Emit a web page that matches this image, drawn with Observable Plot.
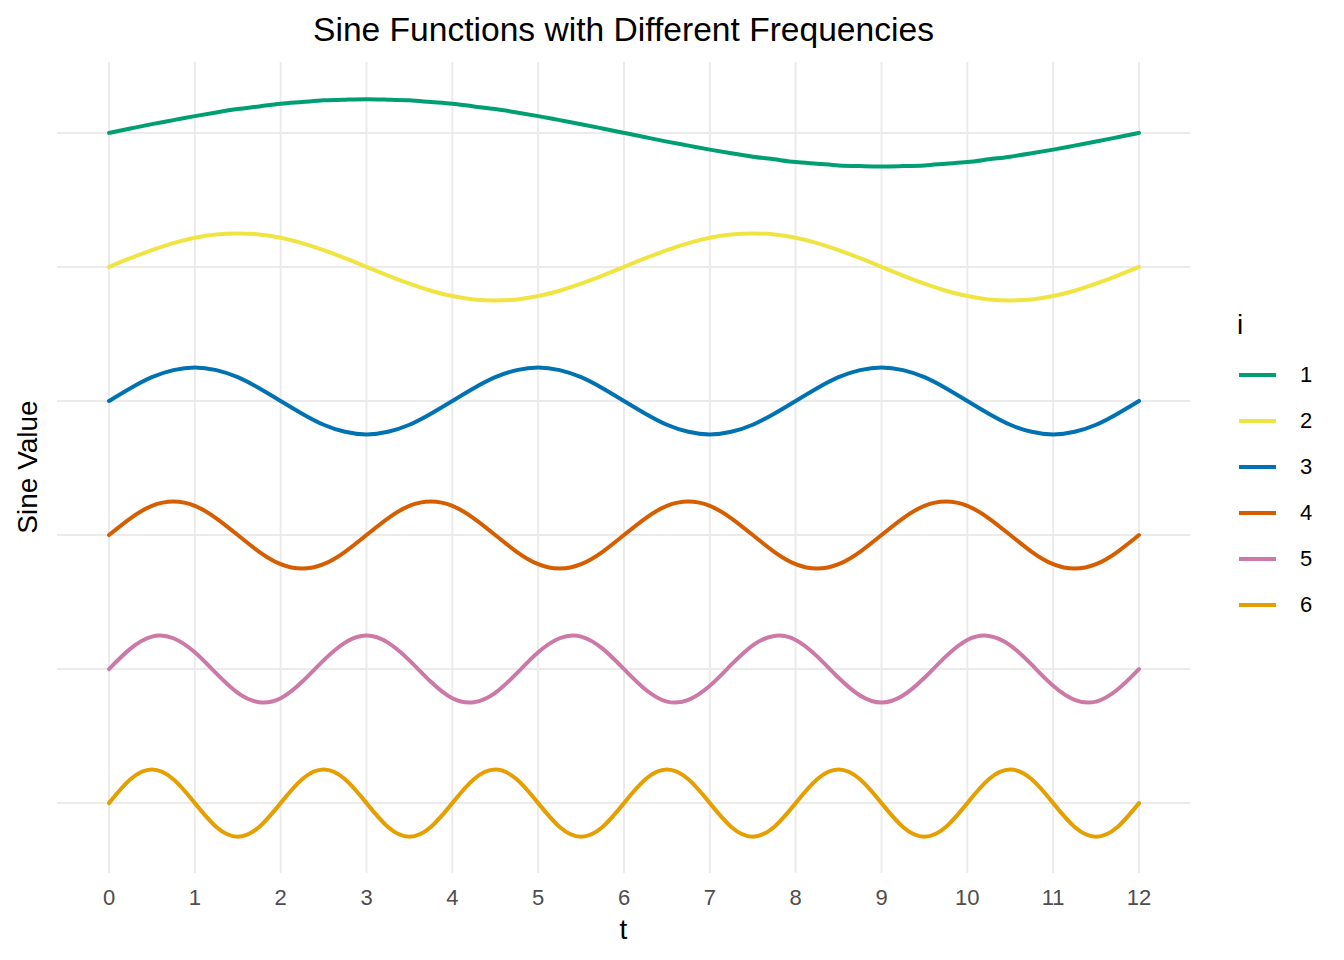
<!DOCTYPE html>
<html>
<head>
<meta charset="utf-8">
<script src="https://cdn.jsdelivr.net/npm/d3@7"></script>
<script src="https://cdn.jsdelivr.net/npm/@observablehq/plot@0.6"></script>
<style>
  body { margin: 0; background: #fff; font-family: "Liberation Sans", Arial, sans-serif; }
  #wrap { position: relative; width: 1344px; height: 960px; overflow: hidden; }
  #chart { position: absolute; left: 0; top: 0; }
  .title { position: absolute; left: 57px; width: 1133px; top: 10px; line-height: 40px; text-align: center; font-size: 33.6px; color: #000; }
  .xlab { position: absolute; left: 57px; width: 1133px; top: 912px; line-height: 36px; text-align: center; font-size: 28px; color: #000; }
  .ylab { position: absolute; left: 28px; top: 467px; font-size: 28px; line-height: 32px; color: #000; white-space: nowrap; transform: translate(-50%, -50%) rotate(-90deg); }
  .legend { position: absolute; left: 1237px; top: 308px; }
  .legend .ltitle { font-size: 28px; line-height: 34px; height: 45px; color: #000; }
  .legend .item { position: relative; height: 46px; }
  .legend .key { position: absolute; left: 2px; top: 20px; width: 37px; height: 4px; }
  .legend .lab { position: absolute; left: 63px; top: 7px; font-size: 22px; line-height: 30px; color: #000; }
</style>
</head>
<body>
<div id="wrap"></div>
<script>
// ---- data ----
const seriesNames = ["1", "2", "3", "4", "5", "6"];
const seriesColors = ["#009E73", "#F0E442", "#0072B2", "#D55E00", "#CC79A7", "#E69F00"];
const seriesOffsets = [20, 16, 12, 8, 4, 0];
const xTicks = [0, 1, 2, 3, 4, 5, 6, 7, 8, 9, 10, 11, 12];
const tValues = [0, 0.25, 0.5, 0.75, 1, 1.25, 1.5, 1.75, 2, 2.25, 2.5, 2.75, 3, 3.25, 3.5, 3.75, 4, 4.25, 4.5, 4.75, 5, 5.25, 5.5, 5.75, 6, 6.25, 6.5, 6.75, 7, 7.25, 7.5, 7.75, 8, 8.25, 8.5, 8.75, 9, 9.25, 9.5, 9.75, 10, 10.25, 10.5, 10.75, 11, 11.25, 11.5, 11.75, 12];
const sine1 = [0, .13, .26, .38, .5, .61, .71, .79, .87, .92, .97, .99, 1, .99, .97, .92, .87, .79, .71, .61, .5, .38, .26, .13, 0, -.13, -.26, -.38, -.5, -.61, -.71, -.79, -.87, -.92, -.97, -.99, -1, -.99, -.97, -.92, -.87, -.79, -.71, -.61, -.5, -.38, -.26, -.13, 0];
const sine2 = [0, .26, .5, .71, .87, .97, 1, .97, .87, .71, .5, .26, 0, -.26, -.5, -.71, -.87, -.97, -1, -.97, -.87, -.71, -.5, -.26, 0, .26, .5, .71, .87, .97, 1, .97, .87, .71, .5, .26, 0, -.26, -.5, -.71, -.87, -.97, -1, -.97, -.87, -.71, -.5, -.26, 0];
const sine3 = [0, .38, .71, .92, 1, .92, .71, .38, 0, -.38, -.71, -.92, -1, -.92, -.71, -.38, 0, .38, .71, .92, 1, .92, .71, .38, 0, -.38, -.71, -.92, -1, -.92, -.71, -.38, 0, .38, .71, .92, 1, .92, .71, .38, 0, -.38, -.71, -.92, -1, -.92, -.71, -.38, 0];
const sine4 = [0, .5, .87, 1, .87, .5, 0, -.5, -.87, -1, -.87, -.5, 0, .5, .87, 1, .87, .5, 0, -.5, -.87, -1, -.87, -.5, 0, .5, .87, 1, .87, .5, 0, -.5, -.87, -1, -.87, -.5, 0, .5, .87, 1, .87, .5, 0, -.5, -.87, -1, -.87, -.5, 0];
const sine5 = [0, .61, .97, .92, .5, -.13, -.71, -.99, -.87, -.38, .26, .79, 1, .79, .26, -.38, -.87, -.99, -.71, -.13, .5, .92, .97, .61, 0, -.61, -.97, -.92, -.5, .13, .71, .99, .87, .38, -.26, -.79, -1, -.79, -.26, .38, .87, .99, .71, .13, -.5, -.92, -.97, -.61, 0];
const sine6 = [0, .71, 1, .71, 0, -.71, -1, -.71, 0, .71, 1, .71, 0, -.71, -1, -.71, 0, .71, 1, .71, 0, -.71, -1, -.71, 0, .71, 1, .71, 0, -.71, -1, -.71, 0, .71, 1, .71, 0, -.71, -1, -.71, 0, .71, 1, .71, 0, -.71, -1, -.71, 0];
const seriesValues = [sine1, sine2, sine3, sine4, sine5, sine6];

// ---- table built from the arrays ----
const rows = [];
seriesNames.forEach((name, k) => {
  seriesValues[k].forEach((v, j) => {
    rows.push({ t: tValues[j], y: v + seriesOffsets[k], i: name });
  });
});

const chart = Plot.plot({
  width: 1344,
  height: 960,
  marginLeft: 57,
  marginRight: 154,
  marginTop: 62,
  marginBottom: 87,
  style: { fontFamily: "'Liberation Sans', Arial, sans-serif", color: "#4D4D4D", background: "#fff" },
  x: { domain: [-0.6, 12.6] },
  y: { domain: [-2.1, 22.1], axis: null },
  color: { domain: seriesNames, range: seriesColors },
  marks: [
    Plot.gridX(xTicks, { stroke: "#EBEBEB", strokeOpacity: 1, strokeWidth: 2 }),
    Plot.gridY(seriesOffsets, { stroke: "#EBEBEB", strokeOpacity: 1, strokeWidth: 2 }),
    Plot.axisX(xTicks, { tickSize: 0, tickPadding: 16, fontSize: 22, label: null }),
    Plot.line(rows, { x: "t", y: "y", z: "i", stroke: "i", strokeWidth: 4, curve: "natural" })
  ]
});

const wrap = document.getElementById("wrap");
chart.id = "chart";
wrap.appendChild(chart);

const title = document.createElement("div");
title.className = "title";
title.textContent = "Sine Functions with Different Frequencies";
wrap.appendChild(title);

const xlab = document.createElement("div");
xlab.className = "xlab";
xlab.textContent = "t";
wrap.appendChild(xlab);

const ylab = document.createElement("div");
ylab.className = "ylab";
ylab.textContent = "Sine Value";
wrap.appendChild(ylab);

const legend = document.createElement("div");
legend.className = "legend";
const lt = document.createElement("div");
lt.className = "ltitle";
lt.textContent = "i";
legend.appendChild(lt);
seriesNames.forEach((name, k) => {
  const item = document.createElement("div");
  item.className = "item";
  const key = document.createElement("div");
  key.className = "key";
  key.style.background = seriesColors[k];
  const lab = document.createElement("div");
  lab.className = "lab";
  lab.textContent = name;
  item.appendChild(key);
  item.appendChild(lab);
  legend.appendChild(item);
});
wrap.appendChild(legend);
</script>
</body>
</html>
